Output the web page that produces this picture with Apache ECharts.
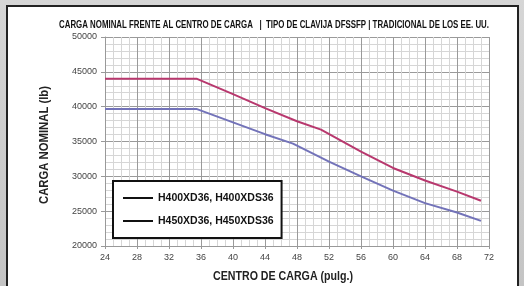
<!DOCTYPE html>
<html>
<head>
<meta charset="utf-8">
<script src="https://cdn.jsdelivr.net/npm/echarts@6/dist/echarts.min.js"></script>
<style>
  html, body { margin: 0; padding: 0; width: 524px; height: 286px; overflow: hidden; }
  body { background: linear-gradient(180deg, #d6d6d6 0%, #c4c4c4 100%); position: relative; }
  .frame {
    position: absolute; left: 6px; top: 5px; width: 509px; height: 300px;
    background: #fff; border: 2.5px solid #222;
  }
  #chart { position: absolute; left: 0; top: 0; width: 524px; height: 286px; }
</style>
</head>
<body>
<div class="frame"></div>
<div id="chart"></div>
<script>
  // carga nominal (lb) vs. centro de carga (pulg.)
  const seriesNames = ['H400XD36, H400XDS36', 'H450XD36, H450XDS36']
  const h400 = [
    [24, 44000], [35.5, 44000], [40, 41800], [44, 39800], [48, 37900], [51, 36700],
    [56, 33550], [60, 31200], [64, 29400], [68, 27800], [71, 26500]
  ]
  const h450 = [
    [24, 39650], [35.5, 39650], [40, 37750], [44, 36050], [47.5, 34700], [52, 32100],
    [56, 30000], [60, 27950], [64, 26150], [68, 24800], [71, 23600]
  ]
  const xTicks = [24, 28, 32, 36, 40, 44, 48, 52, 56, 60, 64, 68, 72]
  const yTicks = [20000, 25000, 30000, 35000, 40000, 45000, 50000]

  const titleText = 'CARGA NOMINAL FRENTE AL CENTRO DE CARGA   |  TIPO DE CLAVIJA DFSSFP | TRADICIONAL DE LOS EE. UU.'
  const xName = 'CENTRO DE CARGA (pulg.)'
  const yName = 'CARGA NOMINAL (lb)'

  // squeeze bold text so it looks like the condensed face in the original
  const measure = document.createElement('canvas').getContext('2d')
  const squeeze = (text, font, width) => {
    measure.font = font
    return width / measure.measureText(text).width
  }

  const titleFont = 'bold 11px "Liberation Sans", Arial, sans-serif'
  const nameFont = 'bold 13px "Liberation Sans", Arial, sans-serif'

  const chart = echarts.init(document.getElementById('chart'), null, { renderer: 'canvas' })

  const option = {
    animation: false,
    grid: { left: 105, right: 35, top: 37, bottom: 40 },
    xAxis: {
      type: 'value',
      min: xTicks[0],
      max: xTicks[xTicks.length - 1],
      interval: 4,
      axisLine: { lineStyle: { color: '#999', width: 1 } },
      axisTick: { show: true, length: 3, lineStyle: { color: '#999' } },
      axisLabel: { fontSize: 9, color: '#444', margin: 7, fontFamily: '"Liberation Sans", Arial, sans-serif' },
      splitLine: { show: true, lineStyle: { color: '#9a9a9a', width: 1 } },
      minorTick: { show: true, splitNumber: 4, length: 0 },
      minorSplitLine: { show: true, lineStyle: { color: '#d6d6d6', width: 1 } }
    },
    yAxis: {
      type: 'value',
      min: yTicks[0],
      max: yTicks[yTicks.length - 1],
      interval: 5000,
      axisLine: { show: true, lineStyle: { color: '#999', width: 1 } },
      axisTick: { show: true, length: 4, lineStyle: { color: '#999' } },
      axisLabel: {
        fontSize: 9, color: '#444', margin: 8, fontFamily: '"Liberation Sans", Arial, sans-serif',
        formatter: (v) => String(v)
      },
      splitLine: { show: true, lineStyle: { color: '#9a9a9a', width: 1 } },
      minorTick: { show: true, splitNumber: 5, length: 0 },
      minorSplitLine: { show: true, lineStyle: { color: '#d6d6d6', width: 1 } }
    },
    legend: {
      orient: 'vertical',
      left: 113,
      top: 181,
      padding: [10, 8, 10, 10],
      itemGap: 9,
      itemWidth: 30,
      itemHeight: 2,
      icon: 'rect',
      itemStyle: { color: '#111' },
      backgroundColor: '#fff',
      borderColor: '#111',
      borderWidth: 2,
      textStyle: { fontSize: 10.5, fontWeight: 'bold', color: '#111', fontFamily: '"Liberation Sans", Arial, sans-serif', lineHeight: 14 },
      data: seriesNames
    },
    series: [
      {
        name: seriesNames[0],
        type: 'line',
        data: h400,
        symbol: 'none',
        lineStyle: { color: '#b8386e', width: 2 },
        itemStyle: { color: '#b8386e' }
      },
      {
        name: seriesNames[1],
        type: 'line',
        data: h450,
        symbol: 'none',
        lineStyle: { color: '#7373b9', width: 2 },
        itemStyle: { color: '#7373b9' }
      }
    ],
    graphic: [
      {
        type: 'text',
        x: 274, y: 25,
        scaleX: squeeze(titleText, titleFont, 430),
        style: { text: titleText, font: titleFont, fill: '#111', align: 'center', verticalAlign: 'middle' }
      },
      {
        type: 'text',
        x: 283, y: 276,
        scaleX: squeeze(xName, nameFont, 140),
        style: { text: xName, font: nameFont, fill: '#222', align: 'center', verticalAlign: 'middle' }
      },
      {
        type: 'text',
        x: 44, y: 145,
        rotation: Math.PI / 2,
        scaleX: squeeze(yName, nameFont, 118),
        style: { text: yName, font: nameFont, fill: '#222', align: 'center', verticalAlign: 'middle' }
      }
    ]
  }

  chart.setOption(option)
</script>
</body>
</html>
